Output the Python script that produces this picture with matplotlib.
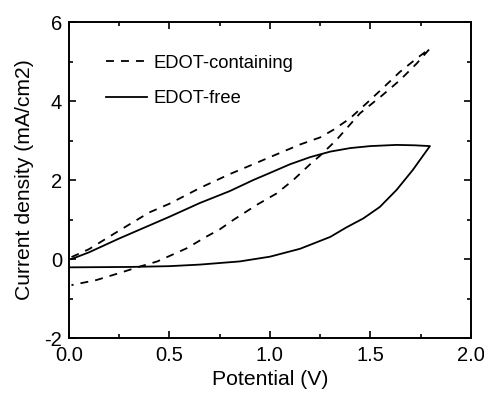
import matplotlib.pyplot as plt
from matplotlib.ticker import MultipleLocator

plt.rcParams["font.family"] = ["Liberation Sans", "DejaVu Sans"]
plt.rcParams["axes.unicode_minus"] = False

# EDOT-containing CV loop (forward sweep, then reverse sweep)
edot_v = [0.013, 0.1, 0.25, 0.4, 0.5, 0.652, 0.8, 0.917, 1.0, 1.15, 1.25,
          1.315, 1.398, 1.48, 1.56, 1.647, 1.73, 1.796,
          1.73, 1.647, 1.56, 1.448, 1.33, 1.25, 1.2, 1.116, 1.033, 0.934,
          0.818, 0.75, 0.685, 0.585, 0.44, 0.353, 0.254, 0.138, 0.013]
edot_i = [0.05, 0.25, 0.72, 1.18, 1.40, 1.80, 2.15, 2.40, 2.58, 2.90, 3.08,
          3.27, 3.56, 3.94, 4.32, 4.74, 5.08, 5.33,
          4.95, 4.53, 4.15, 3.69, 3.01, 2.62, 2.40, 2.00, 1.66, 1.37,
          0.99, 0.75, 0.57, 0.27, -0.06, -0.19, -0.35, -0.53, -0.66]

# EDOT-free CV loop
free_v = [0.013, 0.1, 0.25, 0.4, 0.5, 0.652, 0.8, 0.917, 1.0, 1.1, 1.2,
          1.3, 1.4, 1.5, 1.63, 1.72, 1.796,
          1.71, 1.63, 1.547, 1.465, 1.38, 1.30, 1.15, 1.0, 0.85, 0.652,
          0.5, 0.3, 0.0]
free_i = [0.0, 0.17, 0.52, 0.85, 1.07, 1.42, 1.72, 2.00, 2.18, 2.40, 2.58,
          2.72, 2.81, 2.86, 2.89, 2.88, 2.86,
          2.25, 1.75, 1.32, 1.03, 0.80, 0.56, 0.26, 0.06, -0.06, -0.14,
          -0.18, -0.20, -0.21]

fig = plt.figure(figsize=(4.85, 3.94), dpi=100)
ax = fig.add_axes([0.142, 0.142, 0.829, 0.802])

ax.plot(edot_v, edot_i, color="black", linestyle=(0, (4.4, 3.9)),
        linewidth=1.3, label="EDOT-containing")
ax.plot(free_v, free_i, color="black", linestyle="-", linewidth=1.3,
        label="EDOT-free")

ax.set_xlim(0, 2.0)
ax.set_ylim(-2, 6)
ax.xaxis.set_major_locator(MultipleLocator(0.5))
ax.xaxis.set_minor_locator(MultipleLocator(0.25))
ax.yaxis.set_major_locator(MultipleLocator(2))
ax.yaxis.set_minor_locator(MultipleLocator(1))
ax.tick_params(which="both", direction="in", top=True, right=True,
               labelsize=14.5, width=1.2)
ax.tick_params(which="major", length=5)
ax.tick_params(which="minor", length=3)
ax.tick_params(axis="x", pad=6)
ax.tick_params(axis="y", pad=5)
for s in ax.spines.values():
    s.set_linewidth(1.4)

ax.set_xlabel("Potential (V)", fontsize=15.2, labelpad=3)
ax.set_ylabel("Current density (mA/cm2)", fontsize=15.2, labelpad=7)

ax.legend(loc="upper left", frameon=False, fontsize=13.2, handlelength=2.25,
          handletextpad=0.35, labelspacing=1.0, borderaxespad=0,
          bbox_to_anchor=(0.074, 0.92))

fig.savefig("out.png", dpi=100)
